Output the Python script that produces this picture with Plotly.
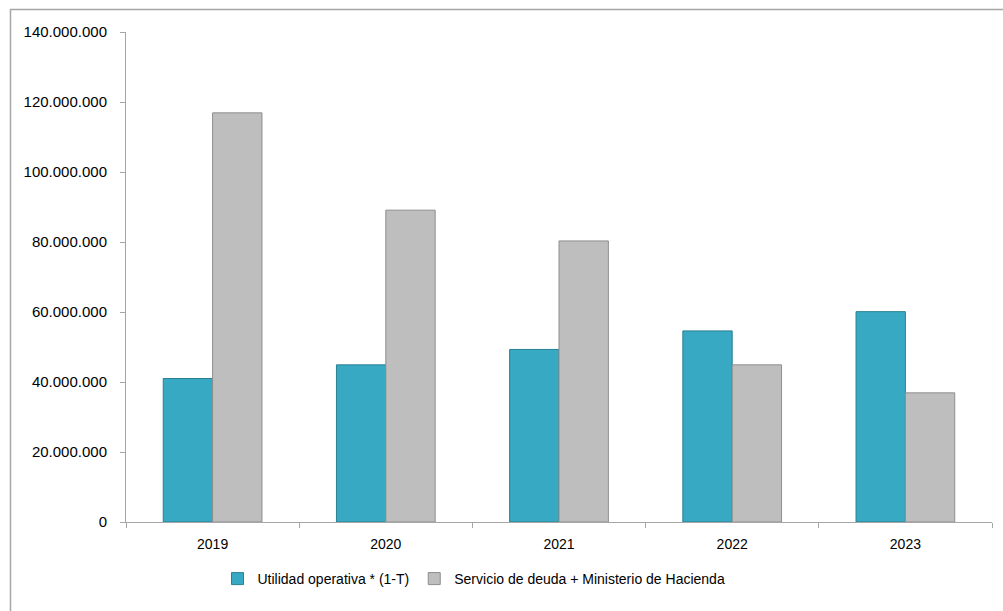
import plotly.graph_objects as go

# Values in pesos, per year
years = ["2019", "2020", "2021", "2022", "2023"]
utilidad_operativa = [41_000_000, 44_900_000, 49_300_000, 54_600_000, 60_100_000]
servicio_deuda = [116_900_000, 89_100_000, 80_300_000, 44_900_000, 36_900_000]
y_ticks = [0, 20_000_000, 40_000_000, 60_000_000, 80_000_000, 100_000_000, 120_000_000, 140_000_000]

TEAL = "#38a9c3"
TEAL_EDGE = "#2a7f93"
GRAY = "#bebebe"
GRAY_EDGE = "#8e8e8e"
AXIS = "#a6a6a6"
FONT = "Liberation Sans"

fig = go.Figure()
fig.add_trace(go.Bar(
    x=years, y=utilidad_operativa, name="Utilidad operativa * (1-T)",
    marker=dict(color=TEAL, line=dict(color=TEAL_EDGE, width=1)),
))
fig.add_trace(go.Bar(
    x=years, y=servicio_deuda, name="Servicio de deuda + Ministerio de Hacienda",
    marker=dict(color=GRAY, line=dict(color=GRAY_EDGE, width=1)),
))

W, H = 1003, 611
ML, MR, MT, MB = 126, 11, 32, 89
pw, ph = W - ML - MR, H - MT - MB

def px_x(p):
    return (p - ML) / pw

def px_y(p):
    return (H - MB - p) / ph

fig.update_layout(
    width=W, height=H,
    margin=dict(l=ML, r=MR, t=MT, b=MB),
    paper_bgcolor="white", plot_bgcolor="white",
    barmode="group", bargap=0.43, bargroupgap=0,
    separators=",.",
    font=dict(family=FONT, size=14, color="#000000"),
    showlegend=True,
    legend=dict(
        orientation="h", x=px_x(474), y=px_y(579),
        xanchor="center", yanchor="middle",
        font=dict(family=FONT, size=14, color="#000000"),
        itemwidth=30, traceorder="normal",
    ),
    xaxis=dict(
        type="category", showgrid=False, showline=True, linecolor=AXIS, linewidth=1,
        ticks="outside", tickson="boundaries", ticklen=5, tickcolor=AXIS,
        ticklabelstandoff=9,
        tickfont=dict(family=FONT, size=14),
    ),
    yaxis=dict(
        range=[0, 140_000_000], tickvals=y_ticks, tickformat=",d",
        showgrid=False, showline=True, linecolor=AXIS, linewidth=1,
        ticks="outside", ticklen=5, tickcolor=AXIS, zeroline=False,
        ticklabelstandoff=10,
        tickfont=dict(family=FONT, size=15),
    ),
    shapes=[dict(
        type="rect", xref="paper", yref="paper",
        x0=px_x(10.5), x1=px_x(1012), y0=px_y(625), y1=px_y(9.5),
        line=dict(color="#a6a6a6", width=1.5), fillcolor="rgba(0,0,0,0)",
        layer="below",
    )],
)

fig.write_html("out.html")
